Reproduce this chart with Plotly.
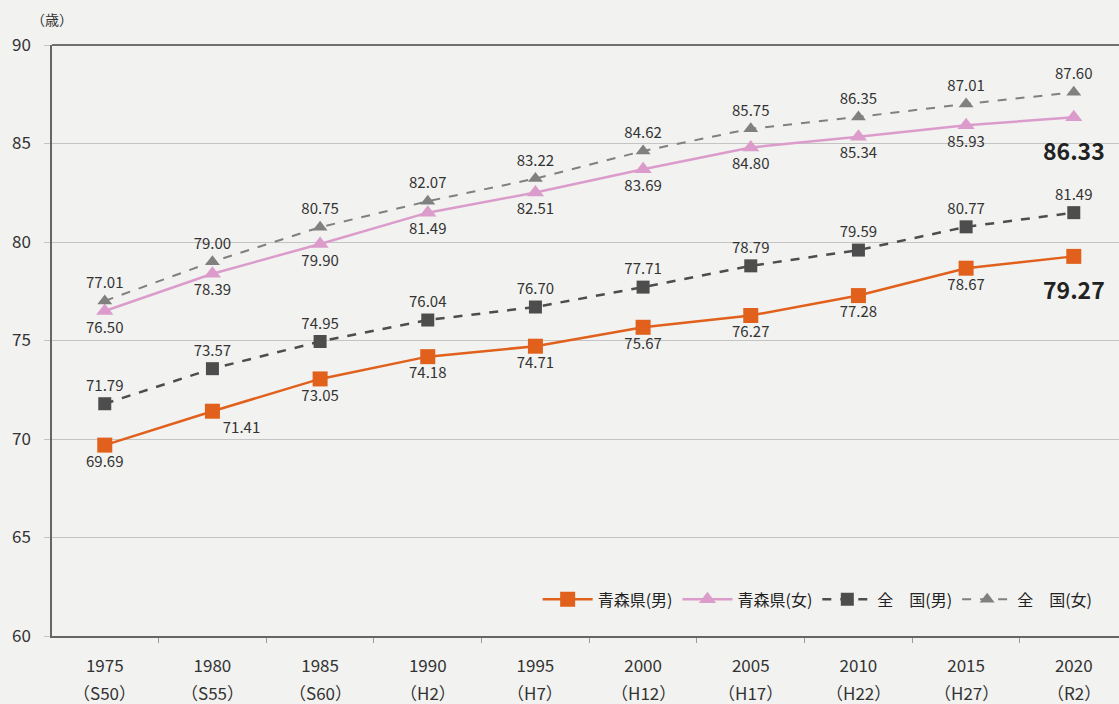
import plotly.graph_objects as go

years = ["1975", "1980", "1985", "1990", "1995", "2000", "2005", "2010", "2015", "2020"]
eras = ["S50", "S55", "S60", "H2", "H7", "H12", "H17", "H22", "H27", "R2"]
aomori_m = [69.69, 71.41, 73.05, 74.18, 74.71, 75.67, 76.27, 77.28, 78.67, 79.27]
aomori_f = [76.50, 78.39, 79.90, 81.49, 82.51, 83.69, 84.80, 85.34, 85.93, 86.33]
zenkoku_m = [71.79, 73.57, 74.95, 76.04, 76.70, 77.71, 78.79, 79.59, 80.77, 81.49]
zenkoku_f = [77.01, 79.00, 80.75, 82.07, 83.22, 84.62, 85.75, 86.35, 87.01, 87.60]

FONT = "Noto Sans CJK JP"
BG = "#f2f2f0"
LAST = len(years) - 1


def fmt(vals):
    return [f"{v:.2f}" for v in vals]


fig = go.Figure()

# 青森県（男）
pos_m = ["bottom center"] * len(years)
pos_m[1] = "bottom right"
txt_m = fmt(aomori_m)
txt_m[LAST] = ""
fig.add_trace(go.Scatter(
    x=years, y=aomori_m, name="青森県(男)",
    mode="lines+markers+text", text=txt_m, textposition=pos_m,
    textfont=dict(size=15, color="#333333"),
    line=dict(color="#e0601c", width=2.5),
    marker=dict(symbol="square", size=15, color="#e0601c"),
))

# 青森県（女）
txt_f = fmt(aomori_f)
txt_f[LAST] = ""
fig.add_trace(go.Scatter(
    x=years, y=aomori_f, name="青森県(女)",
    mode="lines+markers+text", text=txt_f, textposition="bottom center",
    textfont=dict(size=15, color="#333333"),
    line=dict(color="#dc9ccb", width=2.5),
    marker=dict(symbol="triangle-up", size=15, color="#dc9ccb"),
))

# 全国（男）
fig.add_trace(go.Scatter(
    x=years, y=zenkoku_m, name="全　国(男)",
    mode="lines+markers+text", text=fmt(zenkoku_m), textposition="top center",
    textfont=dict(size=15, color="#333333"),
    line=dict(color="#4d4d4d", width=2.5, dash="dash"),
    marker=dict(symbol="square", size=13, color="#4d4d4d"),
))

# 全国（女）
fig.add_trace(go.Scatter(
    x=years, y=zenkoku_f, name="全　国(女)",
    mode="lines+markers+text", text=fmt(zenkoku_f), textposition="top center",
    textfont=dict(size=15, color="#333333"),
    line=dict(color="#808080", width=2, dash="dash"),
    marker=dict(symbol="triangle-up", size=13, color="#808080"),
))

# 2020年の値（太字）
fig.add_annotation(x=LAST, y=aomori_f[LAST], text=f"<b>{aomori_f[LAST]:.2f}</b>",
                   showarrow=False, yshift=-33, font=dict(size=23, color="#222222"))
fig.add_annotation(x=LAST, y=aomori_m[LAST], text=f"<b>{aomori_m[LAST]:.2f}</b>",
                   showarrow=False, yshift=-33, font=dict(size=23, color="#222222"))

# 元号（2行目）
for i, e in enumerate(eras):
    fig.add_annotation(x=i, xref="x", y=0, yref="paper", yshift=-56, yanchor="middle",
                       text=f"（{e}）", showarrow=False,
                       font=dict(size=17, color="#333333"))

fig.add_annotation(xref="paper", yref="paper", x=0.0, y=1.0, yshift=26, xanchor="center",
                   yanchor="middle", text="（歳）", showarrow=False,
                   font=dict(size=14, color="#333333"))

fig.update_layout(
    width=1119, height=704,
    paper_bgcolor=BG, plot_bgcolor=BG,
    font=dict(family=FONT, color="#333333"),
    margin=dict(l=52, r=0, t=45, b=68),
    showlegend=True,
    legend=dict(orientation="h", x=0.98, y=0.062, xanchor="right", yanchor="middle",
                bgcolor="rgba(0,0,0,0)", font=dict(size=16, color="#222222"),
                itemwidth=50),
    xaxis=dict(
        type="category", tickvals=years, ticktext=years,
        range=[-0.49, 9.42], showgrid=False,
        showline=True, linecolor="#666666", linewidth=1.5,
        ticks="outside", tickson="boundaries", ticklen=5, tickcolor="#999999",
        tickfont=dict(size=17, color="#333333"), ticklabelstandoff=14,
    ),
    yaxis=dict(
        range=[60, 90], dtick=5, showgrid=True, gridcolor="#c4c4c4", gridwidth=1,
        showline=True, linecolor="#666666", linewidth=1.5,
        ticks="outside", ticklen=6, tickcolor="#c4c4c4",
        tickfont=dict(size=17, color="#333333"), ticklabelstandoff=10,
        zeroline=False,
    ),
    shapes=[dict(type="line", xref="paper", yref="paper", x0=0, x1=1, y0=1, y1=1,
                 line=dict(color="#444444", width=1.5))],
)

fig.write_html("out.html", config={"displayModeBar": False},
               post_script="document.body.style.margin='0';")
